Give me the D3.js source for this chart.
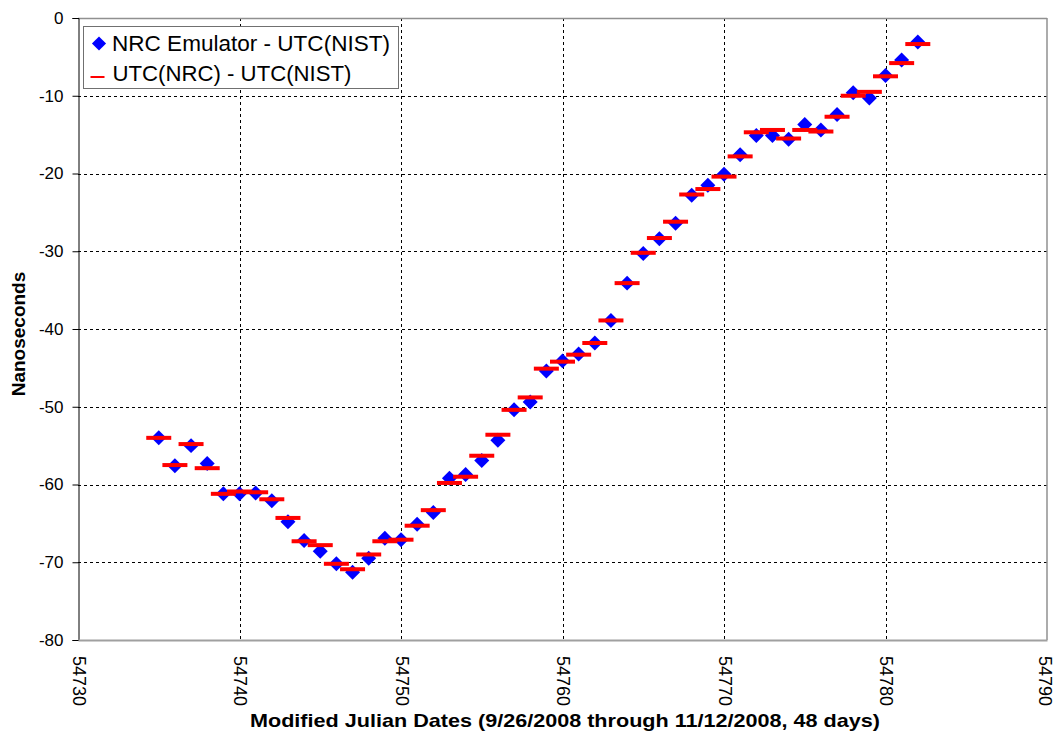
<!DOCTYPE html>
<html>
<head>
<meta charset="utf-8">
<script src="https://cdn.jsdelivr.net/npm/d3@7"></script>
<style>
  html, body { margin: 0; padding: 0; background: #fff; }
  svg { display: block; font-family: Arial, "Liberation Sans", sans-serif; }
</style>
</head>
<body>
<svg id="chart" width="1056" height="733"></svg>
<script>
const days = d3.range(54735, 54783);
const emulatorValues = [-54.0, -57.6, -55.0, -57.3, -61.2, -61.2, -61.1, -62.1, -64.8, -67.2,
  -68.6, -70.2, -71.3, -69.5, -66.9, -67.1, -65.1, -63.6, -59.2, -58.7,
  -56.9, -54.3, -50.4, -49.4, -45.4, -44.1, -43.2, -41.8, -38.9, -34.1,
  -30.3, -28.4, -26.4, -22.8, -21.5, -20.1, -17.6, -15.1, -15.1, -15.6,
  -13.7, -14.4, -12.4, -9.6, -10.3, -7.4, -5.4, -3.1];
const utcNrcValues = [-54.0, -57.5, -54.8, -57.9, -61.2, -60.9, -61.0, -61.9, -64.3, -67.3,
  -67.8, -70.2, -70.9, -69.0, -67.3, -67.1, -65.3, -63.3, -59.8, -59.0,
  -56.3, -53.6, -50.4, -48.8, -45.1, -44.2, -43.3, -41.8, -38.9, -34.1,
  -30.2, -28.3, -26.2, -22.7, -22.0, -20.4, -17.8, -14.7, -14.4, -15.5,
  -14.4, -14.6, -12.7, -10.0, -9.5, -7.5, -5.8, -3.35];
const xTicks = [54730, 54740, 54750, 54760, 54770, 54780, 54790];
const yTicks = [0, -10, -20, -30, -40, -50, -60, -70, -80];
const seriesNames = ["NRC Emulator - UTC(NIST)", "UTC(NRC) - UTC(NIST)"];
const xTitle = "Modified Julian Dates (9/26/2008 through 11/12/2008, 48 days)";
const yTitle = "Nanoseconds";

const svg = d3.select("#chart");
const pL = 78, pR = 1047, pT = 18, pB = 640;
const x = d3.scaleLinear().domain([54730, 54790]).range([pL, pR]);
const y = d3.scaleLinear().domain([-80, 0]).range([pB, pT]);

svg.append("rect").attr("width", 1056).attr("height", 733).attr("fill", "#fff");

// grid
const grid = svg.append("g");
grid.selectAll("line.vx").data(xTicks.slice(1, -1)).join("line")
  .attr("x1", d => Math.round(x(d)) + 0.5).attr("x2", d => Math.round(x(d)) + 0.5)
  .attr("y1", pT).attr("y2", pB)
  .attr("stroke", "#000").attr("stroke-width", 1).attr("stroke-dasharray", "3,3");
grid.selectAll("line.hy").data(yTicks.slice(1, -1)).join("line")
  .attr("x1", pL).attr("x2", pR)
  .attr("y1", d => Math.round(y(d)) + 0.5).attr("y2", d => Math.round(y(d)) + 0.5)
  .attr("stroke", "#000").attr("stroke-width", 1).attr("stroke-dasharray", "3,3");

// border top/right (gray)
svg.append("line").attr("x1", pL).attr("x2", pR).attr("y1", pT + 0.5).attr("y2", pT + 0.5)
  .attr("stroke", "#909090").attr("stroke-width", 1.5);
svg.append("line").attr("x1", pR).attr("x2", pR).attr("y1", pT).attr("y2", pB)
  .attr("stroke", "#909090").attr("stroke-width", 1.5);

// y axis
const yAxis = svg.append("g").attr("transform", `translate(${pL + 0.5},0)`)
  .call(d3.axisLeft(y).tickValues(yTicks).tickFormat(d => String(d)).tickSize(6).tickPadding(9));
yAxis.select(".domain").attr("stroke", "#000");
yAxis.selectAll("text").attr("font-size", 17).attr("fill", "#000")
  .attr("font-family", "Arial, 'Liberation Sans', sans-serif");

// x axis
const xAxis = svg.append("g").attr("transform", `translate(0,${pB})`)
  .call(d3.axisBottom(x).tickValues(xTicks).tickFormat(d => String(d)).tickSize(0).tickPadding(0));
xAxis.select(".domain").attr("stroke", "#a0a0a0").attr("stroke-width", 2);
xAxis.selectAll("text")
  .attr("font-size", 18).attr("fill", "#000")
  .attr("font-family", "Arial, 'Liberation Sans', sans-serif")
  .attr("text-anchor", "start")
  .attr("dy", "0.33em").attr("y", 0).attr("x", 0)
  .attr("transform", d => `translate(${d === xTicks[xTicks.length - 1] ? -3 : 0},16) rotate(90)`);

// markers
const marks = svg.append("g");
marks.selectAll("rect.dm").data(days).join("rect")
  .attr("x", -5.3).attr("y", -5.3).attr("width", 10.6).attr("height", 10.6)
  .attr("fill", "#0000ff")
  .attr("transform", (d, i) => `translate(${x(d)},${y(emulatorValues[i])}) rotate(45)`);
marks.selectAll("rect.rb").data(days).join("rect")
  .attr("x", d => x(d) - 12.5).attr("width", 25)
  .attr("y", (d, i) => y(utcNrcValues[i]) - 2).attr("height", 4)
  .attr("fill", "#ff0000");

// legend
const lg = svg.append("g");
lg.append("rect").attr("x", 83.5).attr("y", 26.5).attr("width", 315).attr("height", 62)
  .attr("fill", "#fff").attr("stroke", "#707070").attr("stroke-width", 1);
lg.append("rect").attr("x", -5).attr("y", -5).attr("width", 10).attr("height", 10)
  .attr("fill", "#0000ff").attr("transform", "translate(99,43.5) rotate(45)");
lg.append("rect").attr("x", 90.5).attr("y", 76).attr("width", 14).attr("height", 2).attr("fill", "#ff0000");
lg.append("text").attr("x", 112).attr("y", 50.5).attr("font-size", 22).attr("fill", "#000")
  .attr("textLength", 278).attr("lengthAdjust", "spacingAndGlyphs").text(seriesNames[0]);
lg.append("text").attr("x", 112.5).attr("y", 81).attr("font-size", 22).attr("fill", "#000")
  .attr("textLength", 239).attr("lengthAdjust", "spacingAndGlyphs").text(seriesNames[1]);

// titles
svg.append("text").attr("x", 565).attr("y", 727).attr("text-anchor", "middle")
  .attr("font-size", 19).attr("font-weight", "bold").attr("fill", "#000")
  .attr("textLength", 630).attr("lengthAdjust", "spacingAndGlyphs").text(xTitle);
svg.append("text").attr("transform", "translate(25,334) rotate(-90)").attr("text-anchor", "middle")
  .attr("font-size", 19).attr("font-weight", "bold").attr("fill", "#000").text(yTitle);
</script>
</body>
</html>
